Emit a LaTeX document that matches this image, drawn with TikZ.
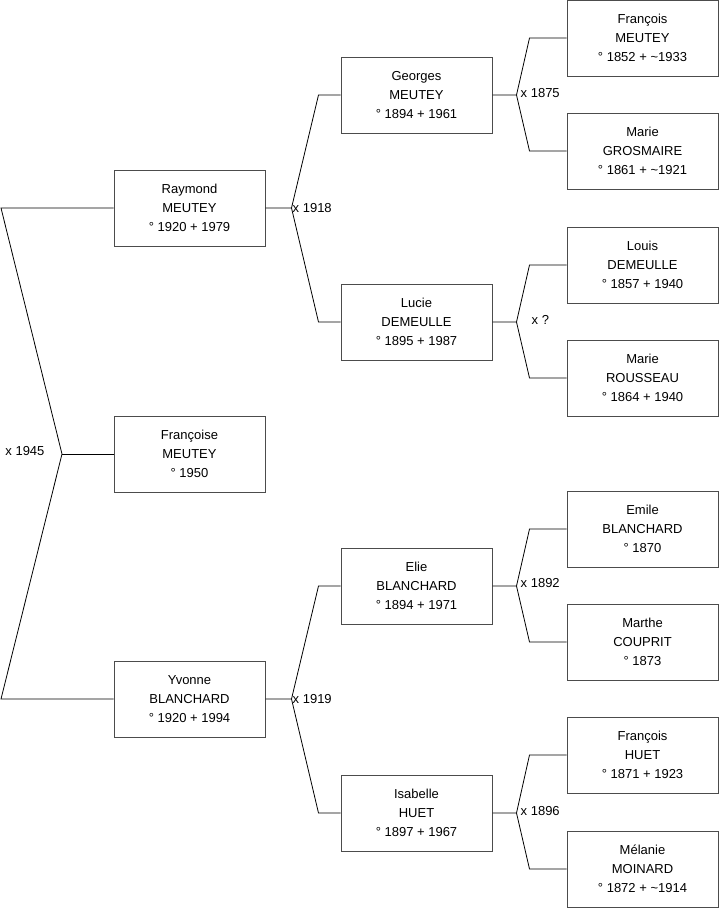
\documentclass[tikz,border=0pt]{standalone}
\usepackage{fontspec}
\setmainfont{Liberation Sans}
\usetikzlibrary{positioning}

\begin{document}
\begin{tikzpicture}[x=1pt, y=-1pt, every node/.style={font=\fontsize{13}{19}\selectfont},
	person/.style={draw=black!70, line width=1pt, minimum width=151pt, minimum height=76pt, align=center, inner sep=0pt},
	link/.style={line width=0.8pt}]
	\useasboundingbox (0,0) rectangle (719,908);
	% generation 1
	\node[person] (raymond) at (189.5,208) {Raymond\\MEUTEY\\° 1920 + 1979};
	\node[person] (francoise) at (189.5,454) {Françoise\\MEUTEY\\° 1950};
	\node[person] (yvonne) at (189.5,699) {Yvonne\\BLANCHARD\\° 1920 + 1994};
	% generation 2
	\node[person] (georges) at (416.5,95) {Georges\\MEUTEY\\° 1894 + 1961};
	\node[person] (lucie) at (416.5,322) {Lucie\\DEMEULLE\\° 1895 + 1987};
	\node[person] (elie) at (416.5,586) {Elie\\BLANCHARD\\° 1894 + 1971};
	\node[person] (isabelle) at (416.5,813) {Isabelle\\HUET\\° 1897 + 1967};
	% generation 3
	\node[person] (francoism) at (642.5,38) {François\\MEUTEY\\° 1852 + \textasciitilde1933};
	\node[person] (marieg) at (642.5,151) {Marie\\GROSMAIRE\\° 1861 + \textasciitilde1921};
	\node[person] (louis) at (642.5,265) {Louis\\DEMEULLE\\° 1857 + 1940};
	\node[person] (marier) at (642.5,378) {Marie\\ROUSSEAU\\° 1864 + 1940};
	\node[person] (emile) at (642.5,529) {Emile\\BLANCHARD\\° 1870};
	\node[person] (marthe) at (642.5,642) {Marthe\\COUPRIT\\° 1873};
	\node[person] (francoish) at (642.5,755) {François\\HUET\\° 1871 + 1923};
	\node[person] (melanie) at (642.5,869) {Mélanie\\MOINARD\\° 1872 + \textasciitilde1914};

	% parents of Françoise
	\coordinate (m1945) at (62,454);
	\coordinate (top1945) at (1,208);
	\coordinate (bot1945) at (1,699);
	\draw[link] (raymond.west) -- (top1945) -- (m1945) -- (bot1945) -- (yvonne.west);
	\draw[link] (m1945) -- (francoise.west);
	\node[anchor=east] (x1945) at (48,451) {x 1945};

	% parents of Raymond and Yvonne
	\foreach \child/\dad/\mum/\year in {raymond/georges/lucie/1918, yvonne/elie/isabelle/1919} {
		\coordinate (\child-m) at ([xshift=26pt]\child.east);
		\draw[link] (\child.east) -- (\child-m) -- ([xshift=-22pt]\dad.west) -- (\dad.west);
		\draw[link] (\child-m) -- ([xshift=-22pt]\mum.west) -- (\mum.west);
		\node[anchor=west, inner sep=1pt] (x\year) at (\child-m) {x \year};
	}

	% grandparents
	\foreach \child/\dad/\mum in {georges/francoism/marieg, lucie/louis/marier, elie/emile/marthe, isabelle/francoish/melanie} {
		\coordinate (\child-m) at ([xshift=24pt]\child.east);
		\draw[link] (\child.east) -- (\child-m) -- ([xshift=-37pt]\dad.west) -- (\dad.west);
		\draw[link] (\child-m) -- ([xshift=-37pt]\mum.west) -- (\mum.west);
	}
	\node[anchor=west, inner sep=1pt] (x1875) at ([shift={(3pt,2pt)}]georges-m) {x 1875};
	\node[anchor=west, inner sep=1pt] (xunknown) at ([shift={(14pt,2pt)}]lucie-m) {x ?};
	\node[anchor=west, inner sep=1pt] (x1892) at ([shift={(3pt,3pt)}]elie-m) {x 1892};
	\node[anchor=west, inner sep=1pt] (x1896) at ([shift={(3pt,2pt)}]isabelle-m) {x 1896};
\end{tikzpicture}
\end{document}
